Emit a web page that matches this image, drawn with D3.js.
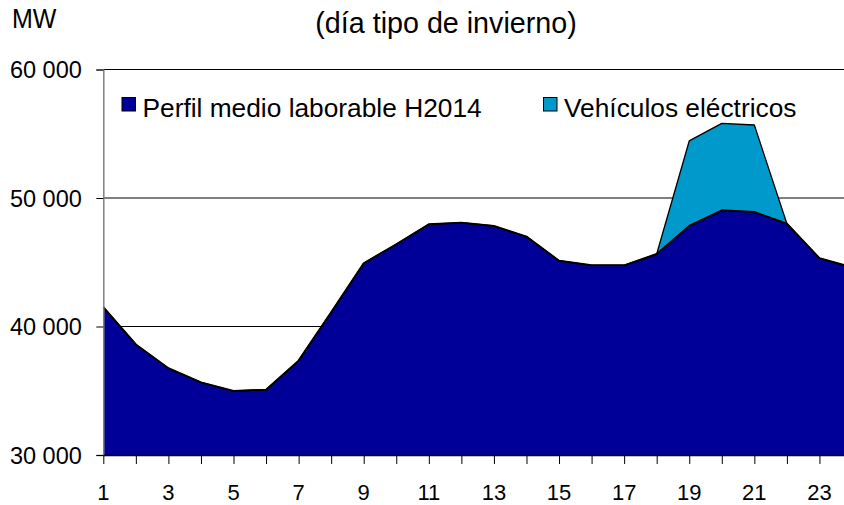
<!DOCTYPE html>
<html lang="es">
<head>
<meta charset="utf-8">
<title>Día tipo de invierno</title>
<script src="https://cdn.jsdelivr.net/npm/d3@7"></script>
<style>
  body { margin: 0; background: #fff; }
  svg { display: block; font-family: "Liberation Sans", Arial, sans-serif; }
  .tick text { fill: #000; }
</style>
</head>
<body>
<div id="chart"></div>
<script>
  // horas del día
  const horas = d3.range(1, 25)
  // perfil medio laborable H2014 (MW)
  const perfil = [41500, 38600, 36750, 35650, 34980, 35080, 37340, 41100, 44920, 46400,
                  47950, 48080, 47820, 46990, 45120, 44760, 44760, 45640, 47820, 49040,
                  48910, 48000, 45310, 44600]
  // vehículos eléctricos (MW, apilado sobre el perfil)
  const vehiculos = [0, 0, 0, 0, 0, 0, 0, 0, 0, 0,
                     0, 0, 0, 0, 0, 0, 0, 0, 6620, 6770,
                     6770, 0, 0, 0]
  const yTicks = [30000, 40000, 50000, 60000]
  const xLabels = [1, 3, 5, 7, 9, 11, 13, 15, 17, 19, 21, 23]

  const width = 844, height = 505
  const fmt = d => d3.format(",")(d).replace(",", " ")

  const data = horas.map((h, i) => ({ h: h, base: perfil[i], top: perfil[i] + vehiculos[i] }))

  const x = d3.scaleLinear().domain([1, 24]).range([103.3, 852])
  const y = d3.scaleLinear().domain([30000, 60000]).range([455, 69.5])

  const svg = d3.select("#chart").append("svg")
      .attr("width", width)
      .attr("height", height)

  // gridlines
  svg.append("g")
    .selectAll("line")
    .data(yTicks.slice(1))
    .join("line")
      .attr("x1", x(1)).attr("x2", width)
      .attr("y1", d => y(d)).attr("y2", d => y(d))
      .attr("stroke", "#000").attr("stroke-width", 1)

  // areas
  const areaEV = d3.area().x(d => x(d.h)).y0(d => y(d.base)).y1(d => y(d.top))
  const areaBase = d3.area().x(d => x(d.h)).y0(y(30000)).y1(d => y(d.base))

  svg.append("path").datum(data)
      .attr("d", areaEV)
      .attr("fill", "#0099cc")
  svg.append("path").datum(data)
      .attr("d", areaBase)
      .attr("fill", "#000099")

  const lineTop = d3.line().x(d => x(d.h)).y(d => y(d.top))
  const lineBase = d3.line().x(d => x(d.h)).y(d => y(d.base))
  svg.append("path").datum(data)
      .attr("d", lineTop).attr("fill", "none")
      .attr("stroke", "#000").attr("stroke-width", 1.3).attr("stroke-linejoin", "round")
  svg.append("path").datum(data)
      .attr("d", lineBase).attr("fill", "none")
      .attr("stroke", "#000").attr("stroke-width", 2).attr("stroke-linejoin", "round")

  // y axis
  const yAxis = svg.append("g")
      .attr("transform", `translate(${x(1)},0)`)
      .call(d3.axisLeft(y).tickValues(yTicks).tickFormat(fmt).tickSize(7).tickPadding(14.5))
  yAxis.select(".domain").attr("stroke", "#808080").attr("stroke-width", 1.5)
  yAxis.selectAll(".tick line").attr("stroke", "#000")
  yAxis.selectAll(".tick text").attr("font-size", 23.5).attr("dy", "0.36em")

  // x axis
  const xAxis = svg.append("g")
      .attr("transform", `translate(0,${y(30000)})`)
      .call(d3.axisBottom(x).tickValues(horas).tickFormat("").tickSize(9).tickSizeOuter(0))
  xAxis.select(".domain").attr("stroke", "#000").attr("stroke-width", 1.5)
  xAxis.selectAll(".tick line").attr("stroke", "#000")
  svg.append("g")
    .selectAll("text")
    .data(xLabels)
    .join("text")
      .attr("x", d => x(d))
      .attr("y", 500)
      .attr("text-anchor", "middle")
      .attr("font-size", 22)
      .text(d => d)

  // titles
  svg.append("text").attr("transform", "translate(12,28.3) scale(1,1.1)")
      .attr("font-size", 25).text("MW")
  svg.append("text").attr("transform", "translate(446,33.3) scale(1,1.05)")
      .attr("font-size", 28.7).attr("text-anchor", "middle").text("(día tipo de invierno)")

  // legend
  const legend = [
    { label: "Perfil medio laborable H2014", color: "#000099", x: 122 },
    { label: "Vehículos eléctricos", color: "#0099cc", x: 543.5 }
  ]
  const lg = svg.append("g").selectAll("g").data(legend).join("g")
      .attr("transform", d => `translate(${d.x},97.5)`)
  lg.append("rect").attr("width", 13.5).attr("height", 13.5)
      .attr("fill", d => d.color).attr("stroke", "#000").attr("stroke-width", 1)
  lg.append("text").attr("x", 20.5).attr("y", 19).attr("font-size", 26.3).text(d => d.label)
</script>
</body>
</html>
